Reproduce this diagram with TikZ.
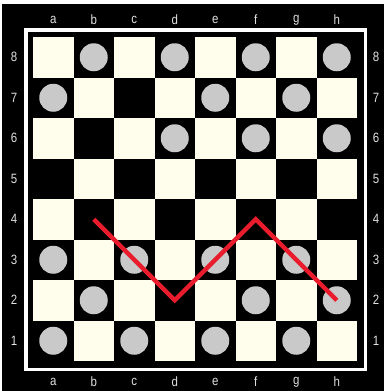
\documentclass[tikz,border=0pt]{standalone}
\usepackage{fontspec}
\newfontfamily\boardfont[FakeStretch=0.85]{Liberation Sans}
\definecolor{BoardLight}{RGB}{255,253,236}
\definecolor{DiscGray}{RGB}{201,201,201}
\definecolor{MoveRed}{RGB}{232,28,44}
\definecolor{LabelGray}{RGB}{225,225,225}

\begin{document}
\begin{tikzpicture}[x=1pt,y=-1pt,
  coordlabel/.style={text=LabelGray,font=\boardfont\fontsize{13.5}{13.5}\selectfont,inner sep=0pt},
  lightsq/.style={fill=BoardLight},
  disc/.style={fill=DiscGray},
  move/.style={draw=MoveRed,line width=4.5pt}]
\useasboundingbox (0,0) rectangle (384,391);
\fill[white] (0,0) rectangle (384,391);
\fill[black] (2,4) rectangle (384,391);
% frame round the board
\draw[white,line width=3.5pt] (26,30) rectangle (365.5,369.5);
% square centres and light squares
\foreach \col [count=\i from 0] in {a,b,c,d,e,f,g,h} {
  \foreach \row in {1,...,8} {
    \coordinate (\col\row) at ({33+40.5*(\i+0.5)},{37+40.5*(8.5-\row)});
    \pgfmathtruncatemacro\parity{mod(\i+\row,2)}
    \ifnum\parity=0
      \fill[lightsq] (\col\row) ++(-20.25,-20.25) rectangle ++(40.5,40.5);
    \fi
  }
}
% discs
\foreach \sq in {b8,d8,f8,h8,a7,e7,g7,d6,f6,h6,a3,c3,e3,g3,b2,f2,h2,a1,c1,e1,g1}
  \fill[disc] (\sq) circle (14);
% files and ranks
\foreach \col [count=\i from 0] in {a,b,c,d,e,f,g,h} {
  \node[coordlabel] (top-\col) at ({33+40.5*(\i+0.5)},20) {\col};
  \node[coordlabel] (bot-\col) at ({33+40.5*(\i+0.5)},382) {\col};
}
\foreach \row in {1,...,8} {
  \node[coordlabel] (left-\row) at (14,{37+40.5*(8.5-\row)}) {\row};
  \node[coordlabel] (right-\row) at (376,{37+40.5*(8.5-\row)}) {\row};
}
% the move
\draw[move] (b4) -- (d2) -- (f4) -- (h2);
\end{tikzpicture}
\end{document}
